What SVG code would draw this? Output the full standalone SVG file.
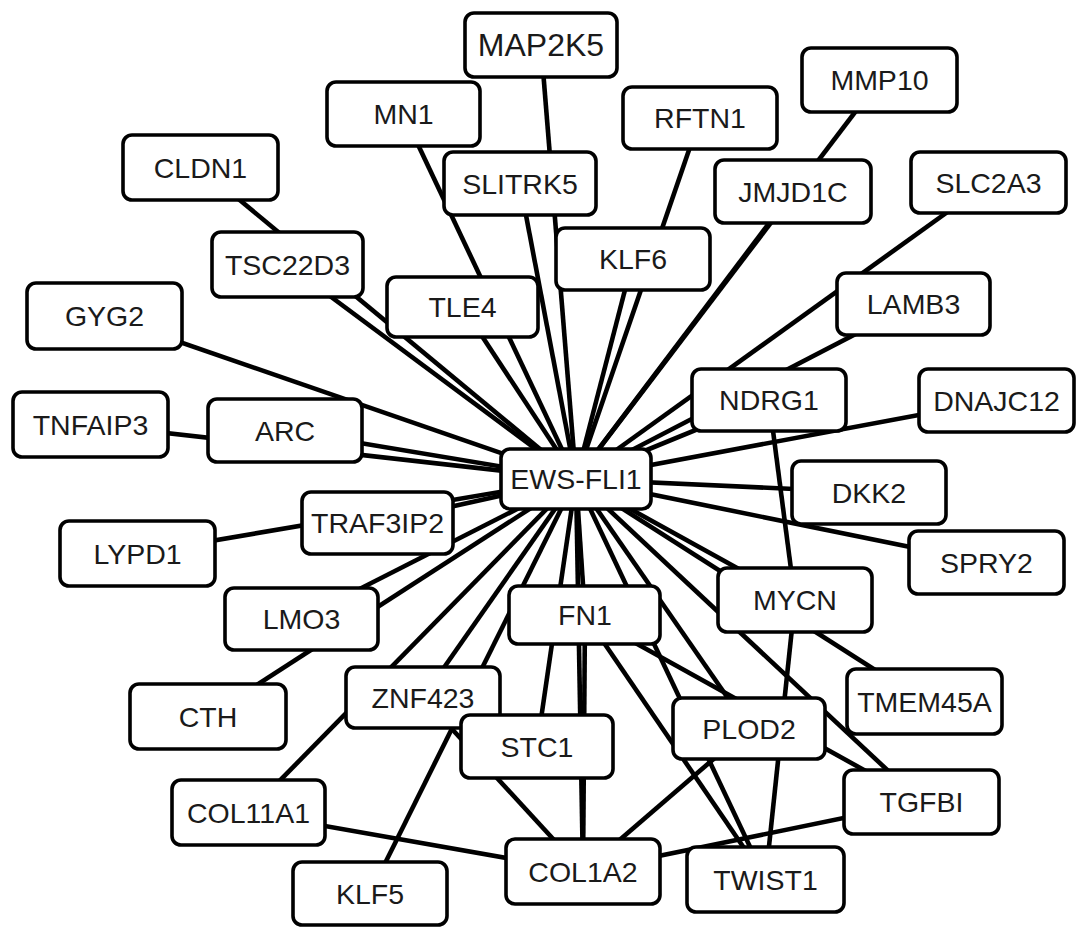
<svg xmlns="http://www.w3.org/2000/svg" width="1087" height="941" viewBox="0 0 1087 941">
<style>
.e{stroke:#000;stroke-width:4.6;fill:none;stroke-linecap:butt}
.n rect{fill:#fff;stroke:#000;stroke-width:3.6}
.n text{font-family:"Liberation Sans",Arial,sans-serif;font-size:28.5px;fill:#1a1a1a;text-anchor:middle}
</style>
<rect width="1087" height="941" fill="#fff"/>
<g id="edges" class="e">
<line x1="576" y1="479" x2="541" y2="45"/>
<line x1="576" y1="479" x2="403.5" y2="114"/>
<line x1="576" y1="479" x2="520" y2="183.5"/>
<line x1="576" y1="479" x2="700" y2="118"/>
<line x1="576" y1="479" x2="633" y2="259"/>
<line x1="576" y1="479" x2="462.5" y2="306.5"/>
<line x1="576" y1="479" x2="879.5" y2="80"/>
<line x1="576" y1="479" x2="793" y2="191.5"/>
<line x1="576" y1="479" x2="988.5" y2="182.5"/>
<line x1="576" y1="479" x2="913.5" y2="304"/>
<line x1="576" y1="479" x2="200.5" y2="167.5"/>
<line x1="576" y1="479" x2="287.5" y2="264.5"/>
<line x1="576" y1="479" x2="104.5" y2="316"/>
<line x1="576" y1="479" x2="90.5" y2="424.5"/>
<line x1="576" y1="479" x2="285" y2="430.5"/>
<line x1="576" y1="479" x2="137.5" y2="553.5"/>
<line x1="576" y1="479" x2="377.5" y2="523"/>
<line x1="576" y1="479" x2="301.5" y2="618.5"/>
<line x1="576" y1="479" x2="585" y2="615"/>
<line x1="576" y1="479" x2="769" y2="400"/>
<line x1="576" y1="479" x2="996.5" y2="400.5"/>
<line x1="576" y1="479" x2="869" y2="492.5"/>
<line x1="576" y1="479" x2="986.5" y2="562.5"/>
<line x1="576" y1="479" x2="795" y2="600"/>
<line x1="576" y1="479" x2="208" y2="716.5"/>
<line x1="576" y1="479" x2="248.5" y2="812.5"/>
<line x1="576" y1="479" x2="370" y2="893.5"/>
<line x1="576" y1="479" x2="423" y2="697.5"/>
<line x1="576" y1="479" x2="537" y2="746.5"/>
<line x1="576" y1="479" x2="583" y2="871.5"/>
<line x1="576" y1="479" x2="749" y2="728.5"/>
<line x1="576" y1="479" x2="924.5" y2="701.5"/>
<line x1="576" y1="479" x2="921.5" y2="802"/>
<line x1="576" y1="479" x2="765.5" y2="879.5"/>
<line x1="769" y1="400" x2="795" y2="600"/>
<line x1="795" y1="600" x2="765.5" y2="879.5"/>
<line x1="585" y1="615" x2="583" y2="871.5"/>
<line x1="585" y1="615" x2="921.5" y2="802"/>
<line x1="585" y1="615" x2="765.5" y2="879.5"/>
<line x1="749" y1="728.5" x2="583" y2="871.5"/>
<line x1="921.5" y1="802" x2="583" y2="871.5"/>
<line x1="248.5" y1="812.5" x2="583" y2="871.5"/>
<line x1="423" y1="697.5" x2="583" y2="871.5"/>
</g>
<g id="MAP2K5" class="n"><rect x="465" y="13" width="152" height="64" rx="9"/><text x="541" y="56" style="font-size:32px">MAP2K5</text></g>
<g id="MN1" class="n"><rect x="327" y="82" width="153" height="64" rx="9"/><text x="403.5" y="124">MN1</text></g>
<g id="SLITRK5" class="n"><rect x="444" y="152" width="152" height="63" rx="9"/><text x="520" y="193.5">SLITRK5</text></g>
<g id="RFTN1" class="n"><rect x="623" y="87" width="154" height="62" rx="9"/><text x="700" y="128">RFTN1</text></g>
<g id="KLF6" class="n"><rect x="556" y="228" width="154" height="62" rx="9"/><text x="633" y="269">KLF6</text></g>
<g id="TLE4" class="n"><rect x="387" y="277" width="151" height="60" rx="9"/><text x="462.5" y="317">TLE4</text></g>
<g id="MMP10" class="n"><rect x="802" y="48" width="155" height="64" rx="9"/><text x="879.5" y="90">MMP10</text></g>
<g id="JMJD1C" class="n"><rect x="715" y="160" width="156" height="63" rx="9"/><text x="793" y="201.5">JMJD1C</text></g>
<g id="SLC2A3" class="n"><rect x="911" y="152" width="155" height="61" rx="9"/><text x="988.5" y="192.5">SLC2A3</text></g>
<g id="LAMB3" class="n"><rect x="837" y="273" width="153" height="62" rx="9"/><text x="913.5" y="314">LAMB3</text></g>
<g id="CLDN1" class="n"><rect x="123" y="135" width="155" height="65" rx="9"/><text x="200.5" y="177.5">CLDN1</text></g>
<g id="TSC22D3" class="n"><rect x="212" y="232" width="151" height="65" rx="9"/><text x="287.5" y="274.5">TSC22D3</text></g>
<g id="GYG2" class="n"><rect x="27" y="283" width="155" height="66" rx="9"/><text x="104.5" y="326">GYG2</text></g>
<g id="TNFAIP3" class="n"><rect x="13" y="392" width="155" height="65" rx="9"/><text x="90.5" y="434.5">TNFAIP3</text></g>
<g id="ARC" class="n"><rect x="208" y="399" width="154" height="63" rx="9"/><text x="285" y="440.5">ARC</text></g>
<g id="LYPD1" class="n"><rect x="60" y="521" width="155" height="65" rx="9"/><text x="137.5" y="563.5">LYPD1</text></g>
<g id="TRAF3IP2" class="n"><rect x="302" y="492" width="151" height="62" rx="9"/><text x="377.5" y="533">TRAF3IP2</text></g>
<g id="LMO3" class="n"><rect x="225" y="588" width="153" height="62" rx="9"/><text x="301.5" y="629">LMO3</text></g>
<g id="CTH" class="n"><rect x="130" y="684" width="156" height="65" rx="9"/><text x="208" y="726.5">CTH</text></g>
<g id="COL11A1" class="n"><rect x="172" y="780" width="153" height="65" rx="9"/><text x="248.5" y="822.5">COL11A1</text></g>
<g id="KLF5" class="n"><rect x="293" y="862" width="154" height="63" rx="9"/><text x="370" y="903.5">KLF5</text></g>
<g id="ZNF423" class="n"><rect x="346" y="667" width="154" height="61" rx="9"/><text x="423" y="707.5">ZNF423</text></g>
<g id="STC1" class="n"><rect x="461" y="715" width="152" height="63" rx="9"/><text x="537" y="756.5">STC1</text></g>
<g id="FN1" class="n"><rect x="509" y="586" width="151" height="58" rx="9"/><text x="585" y="625">FN1</text></g>
<g id="COL1A2" class="n"><rect x="506" y="839" width="154" height="65" rx="9"/><text x="583" y="881.5">COL1A2</text></g>
<g id="PLOD2" class="n"><rect x="673" y="698" width="152" height="61" rx="9"/><text x="749" y="738.5">PLOD2</text></g>
<g id="TMEM45A" class="n"><rect x="847" y="669" width="155" height="65" rx="9"/><text x="924.5" y="711.5">TMEM45A</text></g>
<g id="TGFBI" class="n"><rect x="844" y="770" width="155" height="64" rx="9"/><text x="921.5" y="812">TGFBI</text></g>
<g id="TWIST1" class="n"><rect x="687" y="847" width="157" height="65" rx="9"/><text x="765.5" y="889.5">TWIST1</text></g>
<g id="NDRG1" class="n"><rect x="692" y="369" width="154" height="62" rx="9"/><text x="769" y="410">NDRG1</text></g>
<g id="DNAJC12" class="n"><rect x="919" y="369" width="155" height="63" rx="9"/><text x="996.5" y="410.5">DNAJC12</text></g>
<g id="DKK2" class="n"><rect x="792" y="461" width="154" height="63" rx="9"/><text x="869" y="502.5">DKK2</text></g>
<g id="SPRY2" class="n"><rect x="909" y="531" width="155" height="63" rx="9"/><text x="986.5" y="572.5">SPRY2</text></g>
<g id="MYCN" class="n"><rect x="718" y="568" width="154" height="64" rx="9"/><text x="795" y="610">MYCN</text></g>
<g id="EWS-FLI1" class="n"><rect x="501" y="449" width="150" height="60" rx="9"/><text x="576" y="489">EWS-FLI1</text></g>
</svg>
